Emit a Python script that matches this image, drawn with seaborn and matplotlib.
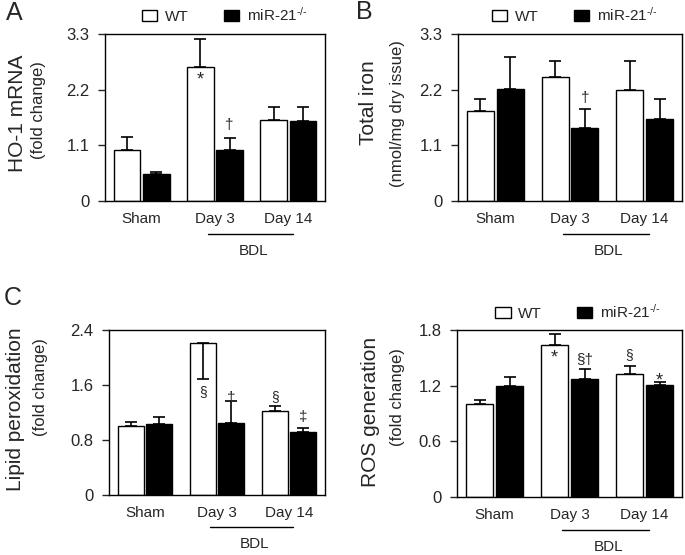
"""Four-panel bar chart: WT vs miR-21 knockout after sham or BDL."""

import pandas as pd
import matplotlib.pyplot as plt
import matplotlib.transforms as mtransforms
import seaborn as sns

GROUPS = ["Sham", "Day 3", "Day 14"]
GENOTYPES = ["WT", "miR-21$^{\u2010/\u2010}$"]

# means, ordered WT (Sham, Day 3, Day 14) then KO (Sham, Day 3, Day 14)
HO1_MEAN = [1.00, 2.64, 1.61, 0.53, 1.01, 1.59]
HO1_ERR = [0.27, 0.57, 0.25, 0.05, 0.24, 0.26]
IRON_MEAN = [1.78, 2.46, 2.19, 2.21, 1.45, 1.63]
IRON_ERR = [0.24, 0.31, 0.58, 0.64, 0.36, 0.38]
LIPID_MEAN = [1.00, 2.21, 1.22, 1.04, 1.05, 0.91]
LIPID_ERR = [0.06, 0.52, 0.07, 0.09, 0.32, 0.07]
ROS_MEAN = [1.00, 1.64, 1.33, 1.20, 1.27, 1.21]
ROS_ERR = [0.05, 0.12, 0.08, 0.09, 0.11, 0.03]

HO1_TICKS = [0, 1.1, 2.2, 3.3]
IRON_TICKS = [0, 1.1, 2.2, 3.3]
LIPID_TICKS = [0, 0.8, 1.6, 2.4]
ROS_TICKS = [0, 0.6, 1.2, 1.8]

# significance marks: (genotype index, group index, y, text)
HO1_MARKS = [(0, 1, 2.40, "*"), (1, 1, 1.50, "\u2020")]
IRON_MARKS = [(1, 1, 2.04, "\u2020")]
LIPID_MARKS = [(0, 1, 1.50, "\u00a7"), (1, 1, 1.41, "\u2020"),
               (0, 2, 1.42, "\u00a7"), (1, 2, 1.14, "\u2021")]
ROS_MARKS = [(0, 1, 1.50, "*"), (1, 1, 1.48, "\u00a7\u2020"),
             (0, 2, 1.53, "\u00a7"), (1, 2, 1.25, "*")]

sns.set_style("ticks")
plt.rcParams['font.family'] = ['Liberation Sans', 'DejaVu Sans']
plt.rcParams['mathtext.fontset'] = 'custom'
plt.rcParams['mathtext.rm'] = 'Liberation Sans'
plt.rcParams['mathtext.it'] = 'Liberation Sans:italic'

W, H = 685, 555


def make_df(means):
    rows = []
    for i, g in enumerate(GENOTYPES):
        for j, grp in enumerate(GROUPS):
            rows.append({"group": grp, "genotype": g, "value": means[i * 3 + j]})
    return pd.DataFrame(rows)


def panel(fig, box, means, errs, ticks, marks, label1, label2, lab_x, lab_y,
          legend_xy=None, down=()):
    left, top, right, bottom = box
    ax = fig.add_axes([left / W, 1 - bottom / H, (right - left) / W, (bottom - top) / H])
    df = make_df(means)
    sns.barplot(data=df, x="group", y="value", hue="genotype", order=GROUPS,
                hue_order=GENOTYPES, palette=["white", "black"], edgecolor="black",
                linewidth=1.0, width=0.8, gap=0.1, errorbar=None, ax=ax,
                legend=legend_xy is not None)
    bar_conts = list(ax.containers)
    centers = {}
    for i, cont in enumerate(bar_conts):
        for j, bar in enumerate(cont.patches):
            centers[(i, j)] = bar.get_x() + bar.get_width() / 2
    for (i, j), x in centers.items():
        k = i * 3 + j
        lo, hi = (errs[k], 0) if (i, j) in down else (0, errs[k])
        ax.errorbar(x, means[k], yerr=[[lo], [hi]], fmt="none", ecolor="black",
                    elinewidth=1.2, capsize=4, capthick=1.2, zorder=3)
    for i, j, y, txt in marks:
        fs = {"*": 13, "\u00a7": 10}.get(txt, 11)
        ax.text(centers[(i, j)], y, txt, ha="center", va="center", fontsize=fs)

    ax.set_xlim(-0.5, 2.5)
    ax.set_ylim(ticks[0], ticks[-1])
    ax.set_yticks(ticks)
    ax.set_yticklabels([f"{t:g}" for t in ticks])
    ax.set_xlabel("")
    ax.set_ylabel("")
    ax.tick_params(axis="x", length=0, pad=8, labelsize=11)
    ax.tick_params(axis="y", length=5, width=1.0, pad=6, labelsize=12)
    for s in ax.spines.values():
        s.set_visible(True)
        s.set_linewidth(1.0)
        s.set_color("black")

    trans = mtransforms.blended_transform_factory(ax.transData, ax.transAxes)
    ax.plot([0.9, 2.06], [-0.195, -0.195], color="black", lw=1.0,
            transform=trans, clip_on=False)
    ax.text(1.52, -0.30, "BDL", ha="center", va="center", fontsize=11, transform=trans)

    fig.text(lab_x[0] / W, 1 - lab_y[0] / H, label1, rotation=90, ha="center",
             va="center", fontsize=15)
    fig.text(lab_x[1] / W, 1 - lab_y[1] / H, label2, rotation=90, ha="center",
             va="center", fontsize=12)

    if legend_xy is not None:
        sns.move_legend(ax, loc="center", bbox_to_anchor=legend_xy, ncol=2,
                        frameon=False, title=None, fontsize=11, handlelength=1.0,
                        handleheight=0.75, handletextpad=0.5, columnspacing=2.3)
        for h in ax.legend_.legend_handles:
            h.set_edgecolor("black")
            h.set_linewidth(1.0)
    return ax


def main():
    fig = plt.figure(figsize=(W / 100, H / 100), dpi=100)

    panel(fig, (105, 34, 325, 201), HO1_MEAN, HO1_ERR, HO1_TICKS, HO1_MARKS,
          "HO-1 mRNA", "(fold change)", (18, 38), (113, 110), legend_xy=(0.545, 1.114))
    panel(fig, (458, 34, 682, 201), IRON_MEAN, IRON_ERR, IRON_TICKS, IRON_MARKS,
          "Total iron", "(nmol/mg dry issue)", (369, 397), (103, 114),
          legend_xy=(0.522, 1.116))
    panel(fig, (109, 330, 325, 495), LIPID_MEAN, LIPID_ERR, LIPID_TICKS, LIPID_MARKS,
          "Lipid peroxidation", "(fold change)", (16, 41), (409, 387), down={(0, 1)})
    panel(fig, (457, 330, 682, 497), ROS_MEAN, ROS_ERR, ROS_TICKS, ROS_MARKS,
          "ROS generation", "(fold change)", (370, 397), (412, 397),
          legend_xy=(0.538, 1.109))

    fig.text(14 / W, 1 - 13 / H, "A", ha="center", va="center", fontsize=18)
    fig.text(364 / W, 1 - 12 / H, "B", ha="center", va="center", fontsize=18)
    fig.text(13 / W, 1 - 298 / H, "C", ha="center", va="center", fontsize=18)

    fig.savefig("out.png", dpi=100)
    plt.close(fig)


if __name__ == "__main__":
    main()
